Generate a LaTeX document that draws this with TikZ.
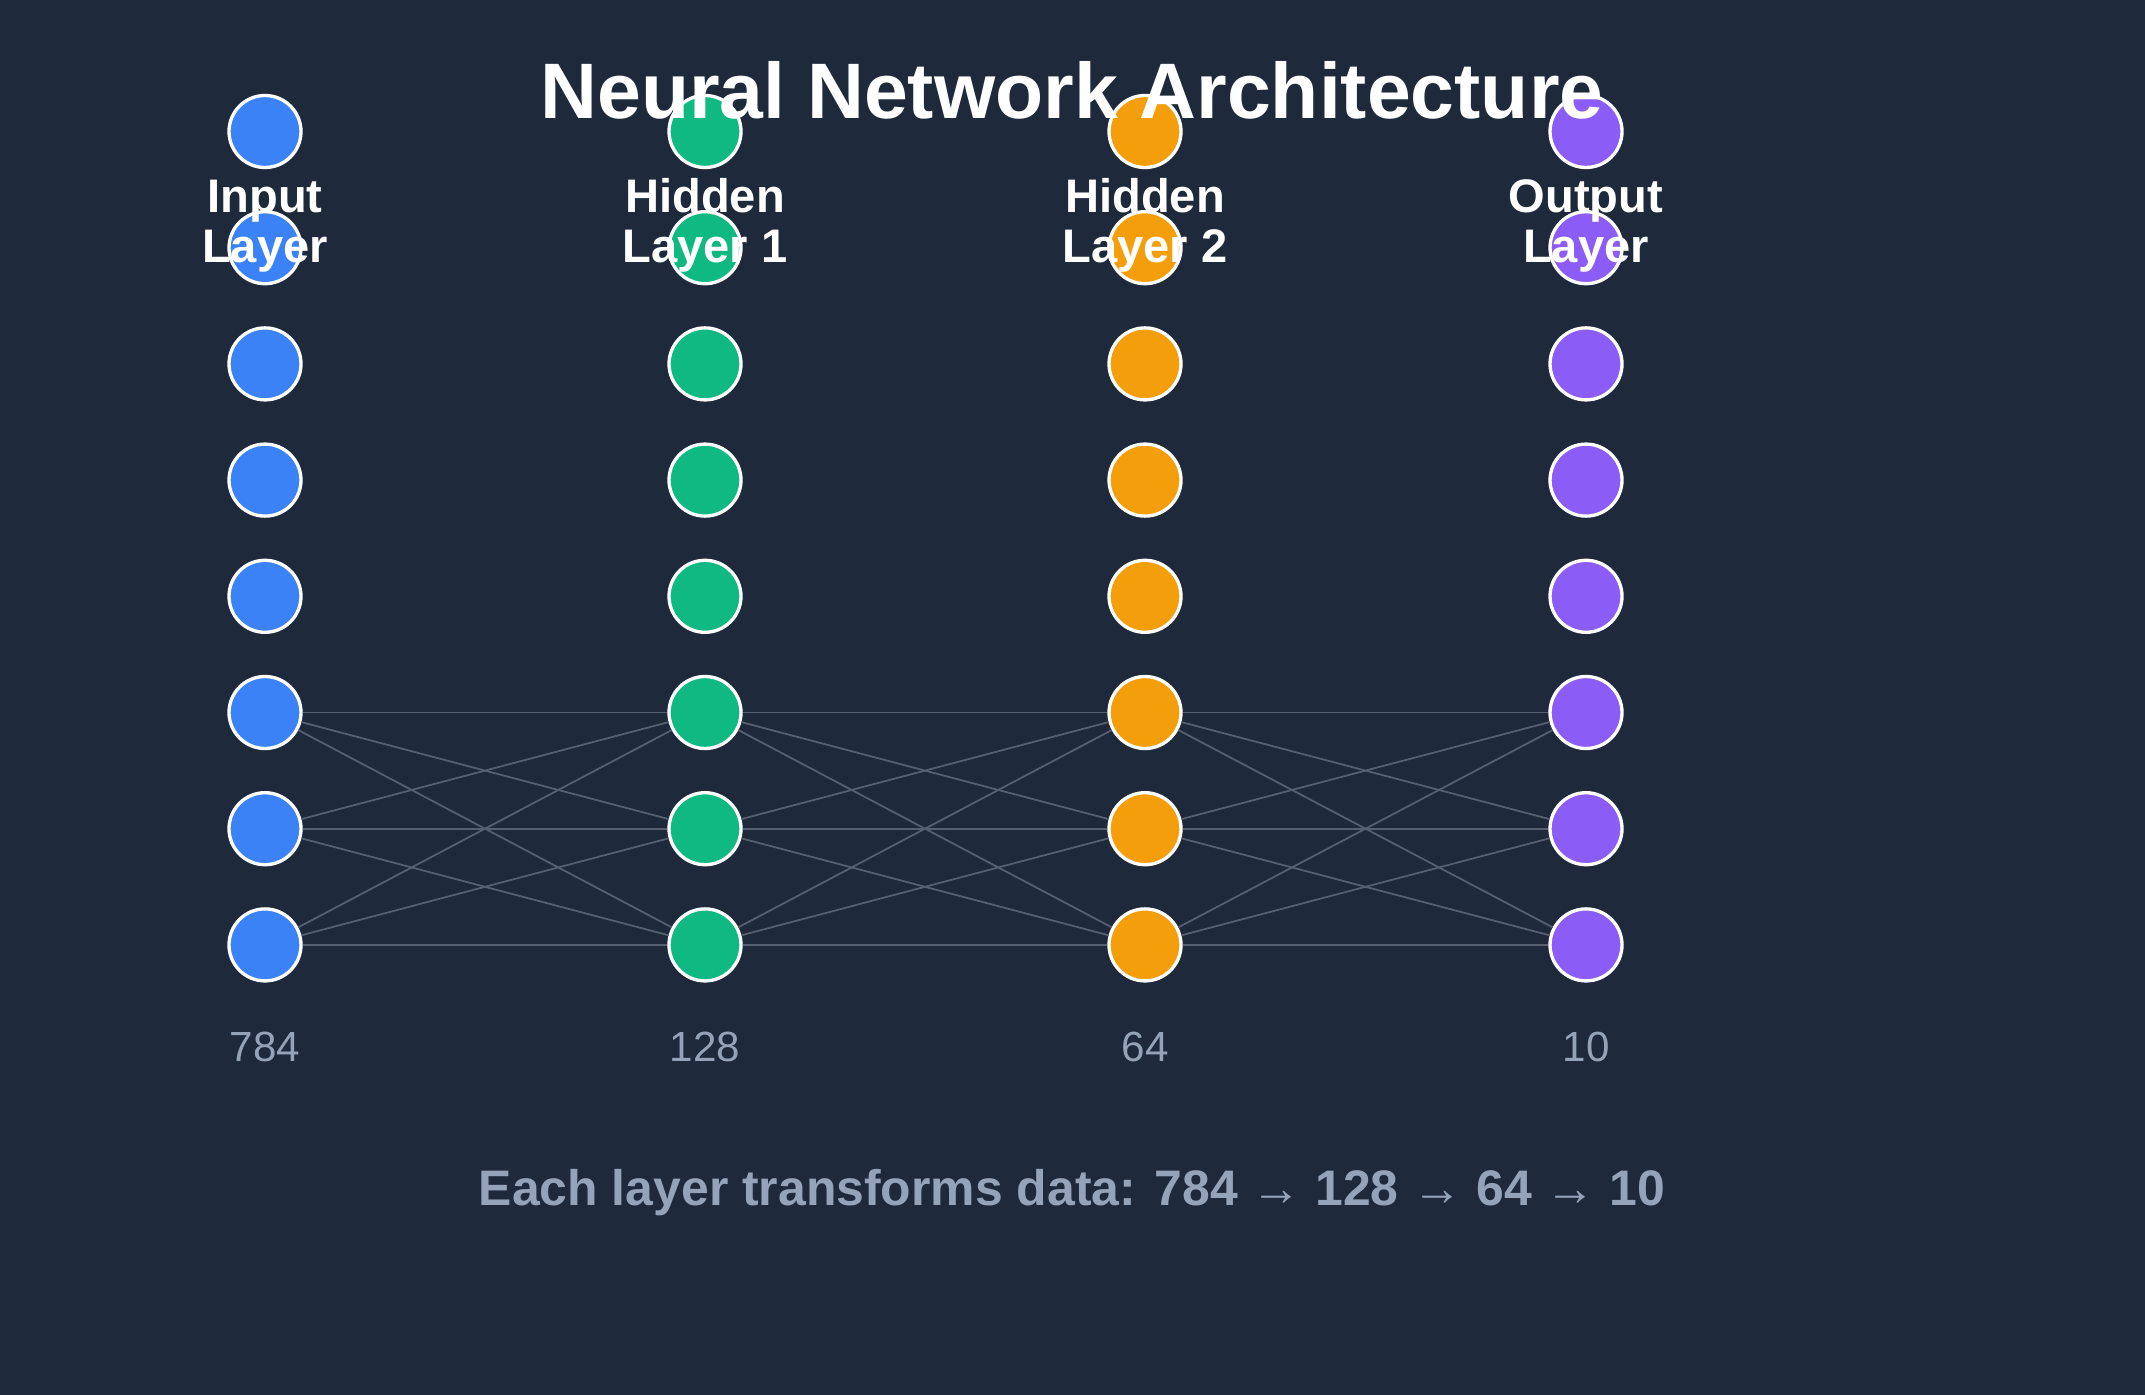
\documentclass[tikz,border=0pt]{standalone}
\usepackage{fontspec}
\setmainfont{Liberation Sans}
\definecolor{bgcol}{HTML}{1E293B}
\definecolor{inblue}{HTML}{3B82F6}
\definecolor{hidgreen}{HTML}{10B981}
\definecolor{hidorange}{HTML}{F59E0B}
\definecolor{outpurple}{HTML}{8B5CF6}
\definecolor{linkcol}{HTML}{566070}
\definecolor{mutedtext}{HTML}{94A3B8}

\begin{document}
\begin{tikzpicture}[
  neuron/.style={circle,draw=white,line width=0.95pt,minimum size=0.72cm,inner sep=0pt},
  link/.style={draw=linkcol,line width=0.5pt},
  layername/.style={text=white,align=center,anchor=base,inner sep=0pt,
    font=\fontsize{13.4pt}{14.2pt}\selectfont\bfseries},
  unitcount/.style={text=mutedtext,anchor=base,inner sep=0pt,
    font=\fontsize{12pt}{14pt}\selectfont}
]
  \fill[bgcol] (0,0) rectangle (21.45,-13.95);
  \useasboundingbox (0,0) rectangle (21.45,-13.95);

  % neurons, 8 per layer
  \foreach \k/\x/\c in {1/2.65/inblue,2/7.05/hidgreen,3/11.45/hidorange,4/15.86/outpurple}{
    \foreach \r in {1,...,8}{
      \node[neuron,fill=\c] (n\k\r) at (\x,{-1.315-1.162*(\r-1)}) {};
    }
  }

  % links between the last three neurons of neighbouring layers
  \foreach \k [evaluate=\k as \m using int(\k+1)] in {1,2,3}{
    \foreach \i in {6,7,8}{
      \foreach \j in {6,7,8}{
        \draw[link] (n\k\i) -- (n\m\j);
      }
    }
  }

  \node[text=white,anchor=base,inner sep=0pt,font=\fontsize{22.4pt}{26pt}\selectfont\bfseries]
    (title) at (10.72,-1.19) {Neural Network Architecture};

  % base anchor sits on the last line
  \node[layername] (lab1) at (2.65,-2.627) {Input\\Layer};
  \node[layername] (lab2) at (7.05,-2.627) {Hidden\\Layer 1};
  \node[layername] (lab3) at (11.45,-2.627) {Hidden\\Layer 2};
  \node[layername] (lab4) at (15.86,-2.627) {Output\\Layer};

  \node[unitcount] (cnt1) at (2.65,-10.617) {784};
  \node[unitcount] (cnt2) at (7.05,-10.617) {128};
  \node[unitcount] (cnt3) at (11.45,-10.617) {64};
  \node[unitcount] (cnt4) at (15.86,-10.617) {10};

  \node[text=mutedtext,anchor=base,inner sep=0pt,font=\fontsize{14.2pt}{17pt}\selectfont\bfseries]
    (summary) at (10.72,-12.05) {Each layer transforms data: 784 → 128 → 64 → 10};
\end{tikzpicture}
\end{document}
